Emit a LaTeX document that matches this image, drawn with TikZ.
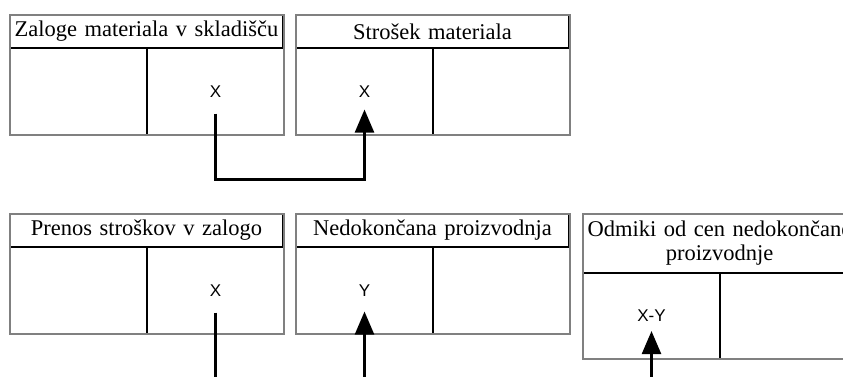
\documentclass[tikz,border=0pt]{standalone}
\usepackage{fontspec}
\setmainfont{Liberation Serif}
\setsansfont{Liberation Sans}
\usetikzlibrary{positioning,arrows.meta}

\tikzset{
  glava/.style={draw,line width=1pt,anchor=north west,minimum height=32pt,
    text width=266pt,inner sep=3pt,align=center,font=\fontsize{22.5}{24}\selectfont},
  celica/.style={draw,line width=1pt,minimum width=136pt,minimum height=86pt,inner sep=0pt},
  znesek/.style={inner sep=0pt,font=\sffamily\fontsize{17}{19}\selectfont},
  okvir/.style={draw=gray,line width=2.5pt},
  knjizba/.style={line width=2.5pt,-{Triangle[length=23pt,width=19pt]}}
}

\begin{document}
\begin{tikzpicture}[x=1pt,y=-1pt]
\useasboundingbox (0,0) rectangle (843,376);

% zgornja vrsta kontov
\node[glava] (ZalH) at (10,15) {Zaloge materiala v skladišču};
\node[celica,below right=0pt and 0pt of ZalH.south west] (ZalB) {};
\node[celica,right=0pt of ZalB] (ZalD) {};
\draw[okvir] (ZalH.north west) rectangle (ZalD.south east);

\node[glava] (StrH) at (296,15) {Strošek materiala};
\node[celica,below right=0pt and 0pt of StrH.south west] (StrB) {};
\node[celica,right=0pt of StrB] (StrD) {};
\draw[okvir] (StrH.north west) rectangle (StrD.south east);

% spodnja vrsta kontov
\node[glava] (PreH) at (10,214) {Prenos stroškov v zalogo};
\node[celica,below right=0pt and 0pt of PreH.south west] (PreB) {};
\node[celica,right=0pt of PreB] (PreD) {};
\draw[okvir] (PreH.north west) rectangle (PreD.south east);

\node[glava] (NedH) at (296,214) {Nedokončana proizvodnja};
\node[celica,below right=0pt and 0pt of NedH.south west] (NedB) {};
\node[celica,right=0pt of NedB] (NedD) {};
\draw[okvir] (NedH.north west) rectangle (NedD.south east);

\node[glava,minimum height=58pt] (OdmH) at (583,214) {Odmiki od cen nedokončane\\proizvodnje};
\node[celica,minimum height=85pt,below right=0pt and 0pt of OdmH.south west] (OdmB) {};
\node[celica,minimum height=85pt,right=0pt of OdmB] (OdmD) {};
\draw[okvir] (OdmH.north west) rectangle (OdmD.south east);

% zneski
\node[znesek] (zalX) at (ZalD) {X};
\node[znesek] (strX) at (StrB) {X};
\node[znesek] (preX) at (PreD) {X};
\node[znesek] (nedY) at (NedB) {Y};
\node[znesek] (odmXY) at (OdmB) {X-Y};

% knjizbe
\draw[knjizba,shorten <=16pt,shorten >=12pt] (zalX.south) -- ++(0,82) -| (strX.south);

\coordinate (preIzh) at ([yshift=-90pt]preX.south);
\coordinate (nedVh) at ([yshift=-90pt]nedY.south);
\coordinate (odmVh) at ([yshift=-90pt]odmXY.south);
\draw[line width=2.5pt,shorten <=16pt] (preX.south) -- (preIzh);
\draw[knjizba,shorten >=15pt] (nedVh) -- (nedY.south);
\draw[knjizba,shorten >=9pt] (odmVh) -- (odmXY.south);
\end{tikzpicture}
\end{document}
